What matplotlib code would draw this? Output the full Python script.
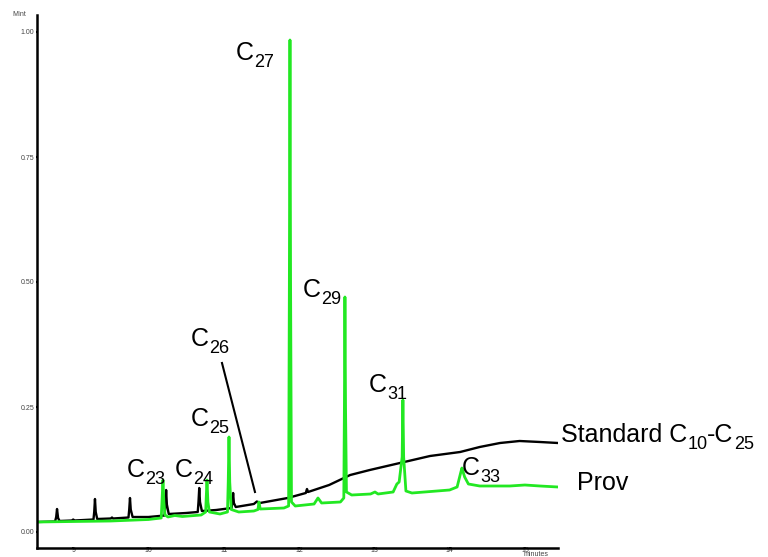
import matplotlib
matplotlib.use("Agg")
import matplotlib.pyplot as plt

# retention time (minutes) and intensity (MInt)
black_t = [8.52, 8.76, 8.775, 8.786, 8.80, 8.82, 8.99, 9.00, 9.02, 9.27, 9.28, 9.29, 9.30, 9.32,
           9.50, 9.516, 9.53, 9.735, 9.745, 9.755, 9.765, 9.79, 10.0, 10.215, 10.225, 10.235,
           10.245, 10.27, 10.5, 10.655, 10.665, 10.675, 10.685, 10.71, 10.9, 11.105, 11.115,
           11.125, 11.135, 11.16, 11.40, 11.44, 11.48, 11.85, 12.09, 12.106, 12.12, 12.4,
           12.68, 12.94, 13.34, 13.74, 14.14, 14.4, 14.67, 14.93, 15.2, 15.44]
black_v = [0.020, 0.021, 0.030, 0.046, 0.028, 0.022, 0.023, 0.025, 0.023, 0.025, 0.040, 0.066,
           0.040, 0.026, 0.027, 0.029, 0.027, 0.029, 0.045, 0.068, 0.045, 0.030, 0.030, 0.033,
           0.055, 0.084, 0.055, 0.036, 0.038, 0.040, 0.060, 0.088, 0.060, 0.042, 0.044, 0.048,
           0.060, 0.078, 0.058, 0.050, 0.056, 0.061, 0.058, 0.068, 0.078, 0.086, 0.080, 0.094,
           0.114, 0.124, 0.138, 0.152, 0.160, 0.170, 0.178, 0.182, 0.180, 0.178]

green_t = [8.52, 9.0, 9.5, 10.0, 10.17, 10.18, 10.193, 10.205, 10.22, 10.26, 10.35, 10.45,
           10.70, 10.76, 10.768, 10.778, 10.79, 10.81, 10.95, 11.05, 11.06, 11.07, 11.08, 11.10,
           11.20, 11.40, 11.455, 11.468, 11.485, 11.80, 11.862, 11.872, 11.88, 11.888, 11.90,
           11.95, 12.20, 12.252, 12.30, 12.55, 12.595, 12.603, 12.61, 12.618, 12.63, 12.70,
           12.95, 13.009, 13.05, 13.25, 13.30, 13.33, 13.37, 13.38, 13.39, 13.42, 13.50, 14.00,
           14.10, 14.15, 14.164, 14.20, 14.25, 14.40, 14.8, 15.0, 15.2, 15.44]
green_v = [0.020, 0.021, 0.022, 0.025, 0.028, 0.060, 0.104, 0.060, 0.034, 0.030, 0.033, 0.031,
           0.034, 0.040, 0.070, 0.104, 0.060, 0.040, 0.036, 0.040, 0.100, 0.190, 0.100, 0.045,
           0.040, 0.042, 0.045, 0.060, 0.046, 0.048, 0.052, 0.5, 0.984, 0.5, 0.060, 0.052,
           0.056, 0.068, 0.058, 0.060, 0.068, 0.25, 0.47, 0.25, 0.080, 0.074, 0.076, 0.080,
           0.076, 0.080, 0.096, 0.100, 0.15, 0.264, 0.15, 0.082, 0.078, 0.084, 0.090, 0.120,
           0.128, 0.110, 0.096, 0.092, 0.092, 0.094, 0.092, 0.090]

# peak labels: (carbon number, time, intensity) of the label's baseline start
peak_labels = [("23", 9.715, 0.110), ("24", 10.353, 0.110), ("25", 10.565, 0.212),
               ("26", 10.565, 0.372), ("27", 11.163, 0.944), ("29", 12.053, 0.470),
               ("31", 12.929, 0.280), ("33", 14.164, 0.114)]

xticks = [9, 10, 11, 12, 13, 14, 15]
yticks = [0.00, 0.25, 0.50, 0.75, 1.00]

plt.rcParams['font.family'] = ['Liberation Sans', 'DejaVu Sans']

fig = plt.figure(figsize=(7.68, 5.57), dpi=100)
ax = fig.add_axes([37/768, 9/557, (558-37)/768, (548-15)/557])
renderer = fig.canvas.get_renderer()

BIG = 18
SUB = 13
DROP = -5


def chain_text(x, y, parts):
    # parts: list of (string, is_subscript); pieces are placed one after another
    dx = 0.0
    for s, sub in parts:
        t = ax.annotate(s, (x, y), xytext=(dx, DROP if sub else 0), textcoords='offset points',
                        fontsize=SUB if sub else BIG, ha='left', va='baseline',
                        annotation_clip=False)
        w = t.get_window_extent(renderer).width * 72.0 / fig.dpi
        dx += w


ax.plot(black_t, black_v, color='black', lw=1.7, solid_joinstyle='round')
ax.plot(green_t, green_v, color='#22e822', lw=2.0, solid_joinstyle='round')

for num, t, v in peak_labels:
    chain_text(t, v, [("C", False), (num, True)])

# pointer to the small C26 peak
ax.plot([10.977, 11.415], [0.338, 0.080], color='black', lw=1.5)

chain_text(15.479, 0.180, [("Standard C", False), ("10", True), ("-C", False), ("25", True)])
chain_text(15.69, 0.084, [("Prov", False)])

ax.set_xlim(8.52, 15.44)
ax.set_ylim(-0.032, 1.034)
for s in ['top', 'right']:
    ax.spines[s].set_visible(False)
for s in ['left', 'bottom']:
    ax.spines[s].set_linewidth(1.8)

ax.set_xticks(xticks)
ax.set_xticklabels([str(x) for x in xticks])
ax.set_yticks(yticks)
ax.set_yticklabels(["%.2f" % y for y in yticks])
ax.tick_params(axis='both', labelsize=5, colors='black', labelcolor='#444444',
               length=2, width=1.5, direction='inout')
ax.tick_params(axis='x', pad=-2)
ax.tick_params(axis='y', pad=1)

fig.text(12/768, 1 - 16/557, "MInt", fontsize=5, color='#444444', ha='left', va='baseline')
ax.text(15.15, -0.039, "minutes", fontsize=5, color='#444444', ha='center', va='top', clip_on=False)

fig.savefig("out.png", dpi=100)
